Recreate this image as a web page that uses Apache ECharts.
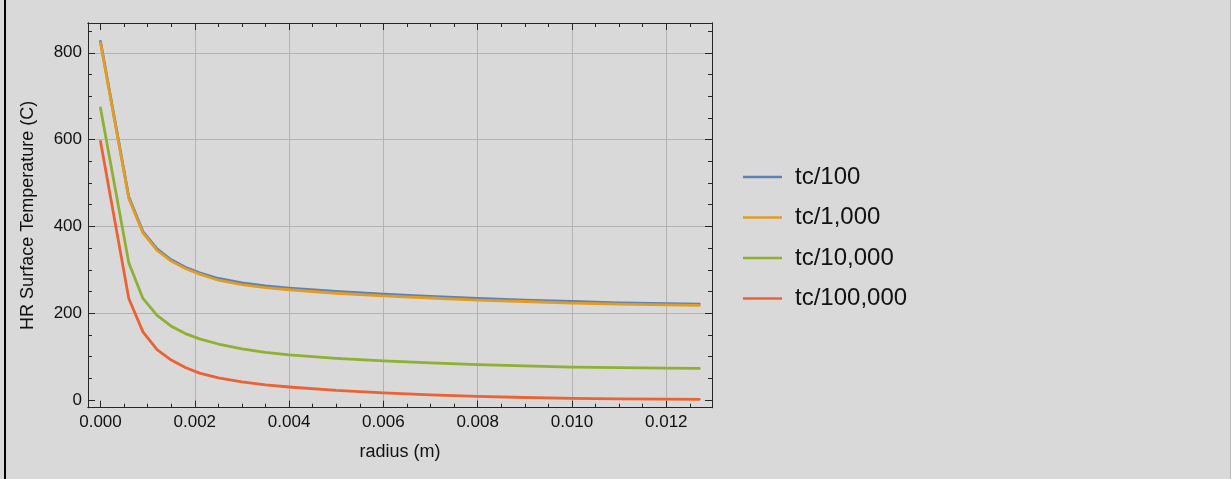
<!DOCTYPE html>
<html>
<head>
<meta charset="utf-8">
<script src="https://cdn.jsdelivr.net/npm/echarts@6/dist/echarts.min.js"></script>
<style>
  html, body { margin: 0; padding: 0; background: #d9d9d9; }
  #chart { width: 1231px; height: 479px; }
</style>
</head>
<body>
<div id="chart"></div>
<script>
// Radius samples (m)
const radius = [0, 0.0006, 0.0009, 0.0012, 0.0015, 0.0018, 0.0021, 0.0025, 0.003, 0.0035,
                0.004, 0.005, 0.006, 0.007, 0.008, 0.009, 0.010, 0.011, 0.012, 0.0127];

// HR surface temperature (C) for each contact-time fraction
const tc100    = [826, 468, 388, 348, 323, 306, 293, 280, 270, 263, 258, 250, 244, 239, 234, 230, 227, 224, 222, 221];
const tc1000   = [823, 465, 385, 345, 320, 303, 290, 276, 266, 259, 254, 246, 240, 235, 230, 227, 223, 221, 219, 218];
const tc10000  = [673, 316, 234, 195, 170, 153, 141, 129, 118, 110, 104, 96, 90, 85.5, 81.5, 78.5, 76, 74.5, 73.3, 72.8];
const tc100000 = [596, 234, 157, 116, 92, 75, 62, 51, 42, 35, 30, 22, 16.5, 12, 8.5, 5.8, 3.9, 2.8, 2, 1.6];

const seriesNames = ['tc/100', 'tc/1,000', 'tc/10,000', 'tc/100,000'];
const seriesValues = [tc100, tc1000, tc10000, tc100000];
const colors = ['#5e81b5', '#e19c24', '#8fb032', '#eb6235'];

// Tick positions
const xMajorTicks = [0, 0.002, 0.004, 0.006, 0.008, 0.010, 0.012];
const xMinorTicks = [0, 0.0005, 0.001, 0.0015, 0.002, 0.0025, 0.003, 0.0035, 0.004, 0.0045, 0.005,
                     0.0055, 0.006, 0.0065, 0.007, 0.0075, 0.008, 0.0085, 0.009, 0.0095, 0.010,
                     0.0105, 0.011, 0.0115, 0.012, 0.0125];
const yMajorTicks = [0, 200, 400, 600, 800];
const yMinorTicks = [0, 50, 100, 150, 200, 250, 300, 350, 400, 450, 500, 550, 600, 650, 700, 750, 800, 850];

// Grid lines
const xGridLines = [0.002, 0.004, 0.006, 0.008, 0.010, 0.012];
const yGridLines = [200, 400, 600, 800];

// Plot ranges
const xRange = [-0.000265, 0.01297];
const yRange = [-17.7, 868.6];

const FONT = '"Liberation Sans", Arial, Helvetica, sans-serif';
const FRAME = '#262626';
const GRID_LEFT = 88, GRID_TOP = 23, GRID_W = 624, GRID_H = 384.7;

function frameAxis(position, range, ticks, tickLen, opts) {
  opts = opts || {};
  return {
    type: 'value',
    position: position,
    min: range[0],
    max: range[1],
    axisLine: { show: opts.line !== false, onZero: false, lineStyle: { color: FRAME, width: 1 } },
    axisTick: {
      show: true, inside: true, length: tickLen, customValues: ticks,
      lineStyle: { color: opts.tickColor || FRAME, width: 1 }
    },
    axisLabel: opts.label || { show: false },
    splitLine: { show: false },
    minorTick: { show: false },
    axisPointer: { show: false },
    z: opts.z != null ? opts.z : 0
  };
}

const xMain = frameAxis('bottom', xRange, xMajorTicks, 7, {
  label: {
    show: true, customValues: xMajorTicks, margin: 6,
    fontSize: 17, fontFamily: FONT, color: '#111',
    formatter: v => Number(v).toFixed(3)
  }
});
xMain.name = 'radius (m)';
xMain.nameLocation = 'middle';
xMain.nameGap = 35;
xMain.nameTextStyle = { fontSize: 18, fontFamily: FONT, color: '#111' };

const yMain = frameAxis('left', yRange, yMajorTicks, 7, {
  label: {
    show: true, customValues: yMajorTicks, margin: 6,
    fontSize: 17, fontFamily: FONT, color: '#111',
    formatter: v => String(Math.round(v))
  }
});
yMain.name = 'HR Surface Temperature (C)';
yMain.nameLocation = 'middle';
yMain.nameGap = 51;
yMain.nameTextStyle = { fontSize: 18, fontFamily: FONT, color: '#111' };

const series = seriesNames.map((name, k) => ({
  name: name,
  type: 'line',
  xAxisIndex: 0,
  yAxisIndex: 0,
  data: radius.map((r, i) => [r, seriesValues[k][i]]),
  showSymbol: false,
  symbol: 'none',
  lineStyle: { color: colors[k], width: 2.8, join: 'round', cap: 'round' },
  itemStyle: { color: colors[k] },
  z: 3
}));

const chart = echarts.init(document.getElementById('chart'), null, { renderer: 'canvas' });
chart.setOption({
  animation: false,
  backgroundColor: '#d9d9d9',
  color: colors,
  grid: { left: GRID_LEFT, top: GRID_TOP, width: GRID_W, height: GRID_H, containLabel: false },
  xAxis: [
    xMain,
    frameAxis('bottom', xRange, xMinorTicks, 4),
    frameAxis('top', xRange, xMajorTicks, 7),
    frameAxis('top', xRange, xMinorTicks, 4),
    // full-height ticks serve as vertical grid lines
    frameAxis('bottom', xRange, xGridLines, GRID_H, { line: false, tickColor: '#b3b3b3', z: -1 })
  ],
  yAxis: [
    yMain,
    frameAxis('left', yRange, yMinorTicks, 4),
    frameAxis('right', yRange, yMajorTicks, 7),
    frameAxis('right', yRange, yMinorTicks, 4),
    // full-width ticks serve as horizontal grid lines
    frameAxis('left', yRange, yGridLines, GRID_W, { line: false, tickColor: '#b3b3b3', z: -1 })
  ],
  legend: {
    orient: 'vertical',
    left: 738,
    top: 160,
    itemWidth: 39,
    itemHeight: 2.5,
    itemGap: 16.5,
    icon: 'rect',
    selectedMode: false,
    textStyle: { fontSize: 24, lineHeight: 24, fontFamily: FONT, color: '#111', padding: [0, 0, 0, 8] },
    data: seriesNames
  },
  graphic: [
    { type: 'rect', left: 4, top: 0, shape: { width: 2, height: 479 }, style: { fill: '#000' }, silent: true },
    { type: 'rect', left: 1230, top: 0, shape: { width: 1, height: 479 }, style: { fill: '#b9b9b9' }, silent: true }
  ],
  series: series
});
</script>
</body>
</html>
